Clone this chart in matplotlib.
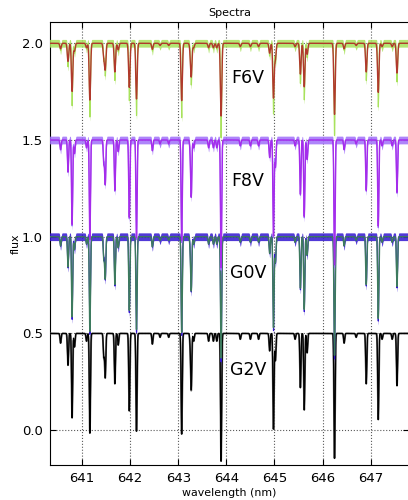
import numpy as np
import matplotlib
matplotlib.use("Agg")
import matplotlib.pyplot as plt

# absorption lines: centre (nm), depth below continuum 0.5
line_wl = [640.55, 640.705, 640.79, 640.84, 641.09, 641.16, 641.45, 641.48, 641.68,
           641.75, 641.98, 642.13, 642.46, 642.62, 642.80, 643.07, 643.25, 643.27,
           643.32, 643.63, 643.73, 643.80, 643.89, 644.29, 644.50, 644.67, 644.90,
           644.98, 645.02, 645.43, 645.54, 645.62, 645.68, 646.25, 646.45, 646.70,
           646.91, 647.16, 647.24, 647.45, 647.55]
line_depth = [0.05, 0.165, 0.436, 0.07, 0.04, 0.515, 0.12, 0.226, 0.26,
              0.06, 0.40, 0.505, 0.055, 0.02, 0.02, 0.52, 0.06, 0.28,
              0.04, 0.04, 0.04, 0.04, 0.66, 0.03, 0.03, 0.03, 0.09,
              0.494, 0.14, 0.03, 0.28, 0.395, 0.10, 0.645, 0.05, 0.02,
              0.26, 0.445, 0.03, 0.03, 0.27]

stars = ["F6V", "F8V", "G0V", "G2V"]
offsets = [1.5, 1.0, 0.5, 0.0]
obs_scale = [0.74, 1.02, 0.98, 1.0]     # line strength of observed spectrum vs G2V
model_scale = [0.57, 1.0, 0.95, 1.0]    # line strength of model spectrum vs G2V
obs_color = ["#a8e25c", "#a070fa", "#3216d0", "black"]
model_color = ["#b0392c", "#a52ceb", "#3d7a5e", "#666666"]
label_y = [1.82, 1.29, 0.81, 0.31]

wl = np.arange(640.3, 647.9, 0.002)


def spectrum(scale, sigma):
    f = np.full_like(wl, 0.5)
    for c, d in zip(line_wl, line_depth):
        f -= scale * d * np.exp(-0.5 * ((wl - c) / sigma) ** 2)
    return f


fig = plt.figure(figsize=(4.08, 5.0), dpi=100)
ax = fig.add_axes([0.1225, 0.07, 0.88, 0.886])

for i in range(3, -1, -1):
    z = 10 - i * 2
    obs = spectrum(obs_scale[i], 0.011) + offsets[i]
    mod = spectrum(model_scale[i], 0.015 if i == 0 else 0.012) + offsets[i]
    if stars[i] != "G2V":
        ax.fill_between(wl, obs - 0.02, obs + 0.02, color=obs_color[i], lw=0,
                        alpha=0.85, zorder=z)
        ax.plot(wl, obs, color=obs_color[i], lw=0.8, zorder=z)
        ax.plot(wl, mod, color=model_color[i], lw=1.0, zorder=z + 1)
    else:
        ax.plot(wl, mod, color=model_color[i], lw=1.3, zorder=z)
        ax.plot(wl, obs, color=obs_color[i], lw=0.9, zorder=z + 1)
    ax.text(644.45, label_y[i], stars[i], fontsize=12.5, ha="center", va="center", zorder=20)

ax.set_xlim(640.33, 647.8)
ax.set_ylim(-0.18, 2.11)
ax.set_xticks([641, 642, 643, 644, 645, 646, 647])
ax.set_yticks([0.0, 0.5, 1.0, 1.5, 2.0])
ax.set_yticklabels(["0.0", "0.5", "1.0", "1.5", "2.0"])
ax.tick_params(direction="in", labelsize=9.5, top=True, right=True, length=4, pad=5)
ax.grid(True, color="0.35", linestyle=":", lw=0.8)
ax.spines["right"].set_visible(False)
ax.set_title("Spectra", fontsize=8, pad=4)
ax.set_xlabel("wavelength (nm)", fontsize=7.9, labelpad=2)
ax.set_ylabel("flux", fontsize=7.9, labelpad=1)

fig.savefig("out.png", dpi=100)
